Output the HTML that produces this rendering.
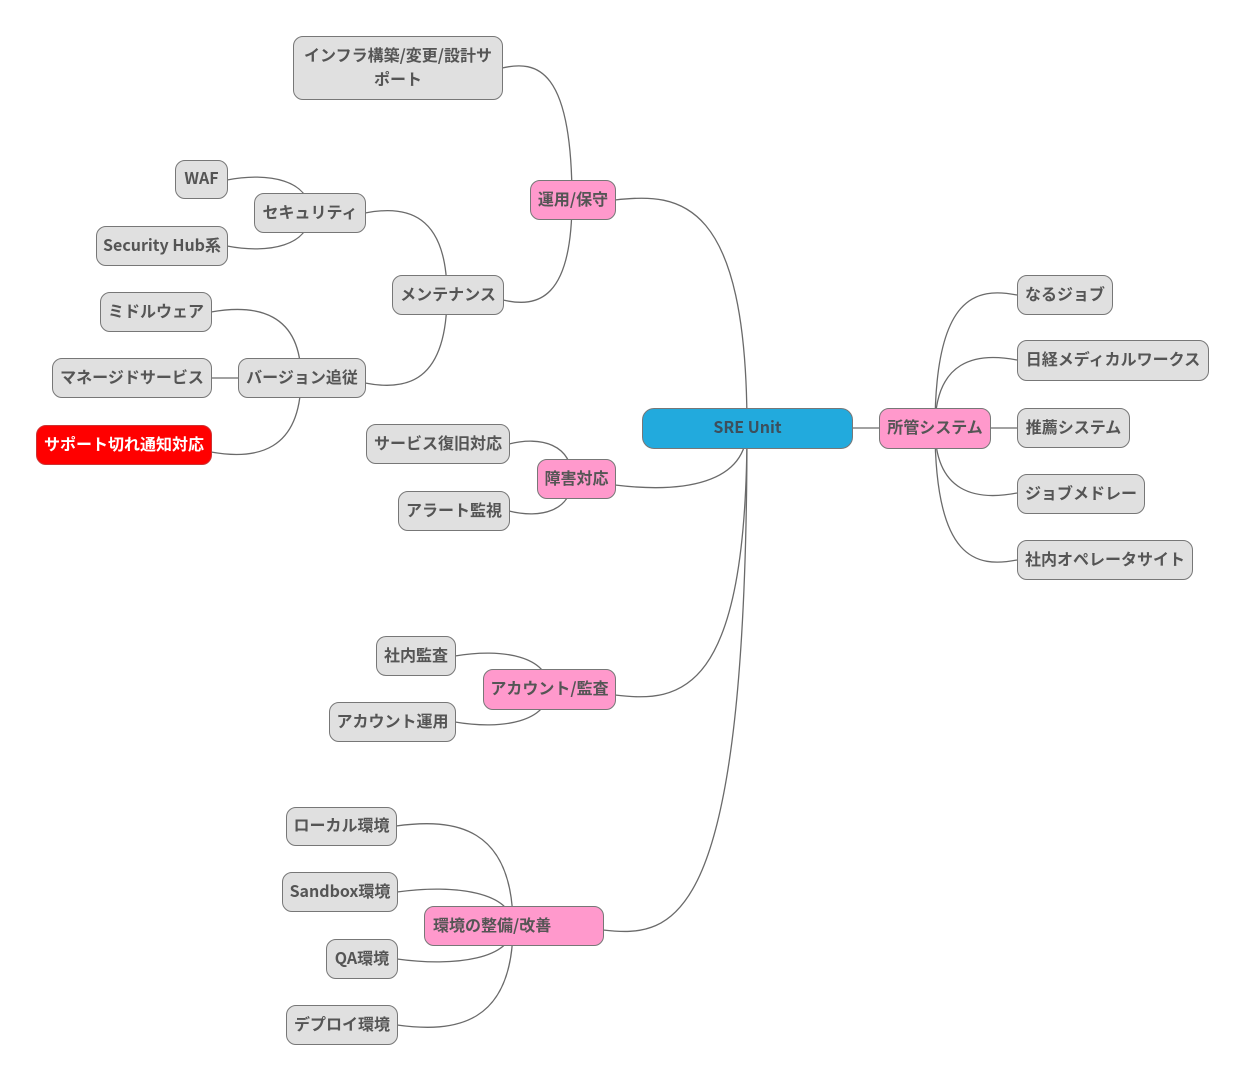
<!DOCTYPE html>
<html><head><meta charset="utf-8"><style>
body{margin:0;background:#fff;width:1246px;height:1084px;position:relative;overflow:hidden;font-family:"Noto Sans CJK JP","Liberation Sans",sans-serif}
svg{position:absolute;left:0;top:0}
.n{position:absolute;box-sizing:border-box;border:1.5px solid #777;border-radius:10px;background:#e0e0e0;color:#555;font-weight:bold;font-size:16px;display:flex;align-items:center;justify-content:center;text-align:center;line-height:24px;white-space:nowrap;padding-bottom:5px}
.p{background:#ff99cc}
.b{background:#22aadd;border-radius:12px;color:#3d4f5c}
.r{background:#ff0000;color:#fff;border-color:#c33}
</style></head><body>
<svg width="1246" height="1084"><g fill="none" stroke="#6a6a6a" stroke-width="1.3" id="g"></g></svg>
<div class="n b" style="left:642px;top:408px;width:211px;height:41px">SRE Unit</div>
<div class="n p" style="left:879px;top:408px;width:112px;height:41px">所管システム</div>
<div class="n" style="left:1017px;top:275px;width:96px;height:40px">なるジョブ</div>
<div class="n" style="left:1017px;top:340px;width:192px;height:41px">日経メディカルワークス</div>
<div class="n" style="left:1017px;top:408px;width:113px;height:40px">推薦システム</div>
<div class="n" style="left:1017px;top:474px;width:128px;height:40px">ジョブメドレー</div>
<div class="n" style="left:1017px;top:540px;width:176px;height:40px">社内オペレータサイト</div>
<div class="n p" style="left:530px;top:180px;width:86px;height:40px">運用/保守</div>
<div class="n" style="left:293px;top:36px;width:210px;height:64px;white-space:normal;padding:0 8px 5px">インフラ構築/変更/設計サポート</div>
<div class="n" style="left:392px;top:275px;width:112px;height:40px">メンテナンス</div>
<div class="n" style="left:254px;top:193px;width:112px;height:40px">セキュリティ</div>
<div class="n" style="left:175px;top:160px;width:53px;height:39px">WAF</div>
<div class="n" style="left:96px;top:226px;width:132px;height:40px">Security Hub系</div>
<div class="n" style="left:238px;top:358px;width:128px;height:40px">バージョン追従</div>
<div class="n" style="left:100px;top:292px;width:112px;height:40px">ミドルウェア</div>
<div class="n" style="left:52px;top:358px;width:160px;height:40px">マネージドサービス</div>
<div class="n r" style="left:36px;top:425px;width:176px;height:40px">サポート切れ通知対応</div>
<div class="n p" style="left:537px;top:459px;width:79px;height:40px">障害対応</div>
<div class="n" style="left:366px;top:424px;width:144px;height:40px">サービス復旧対応</div>
<div class="n" style="left:398px;top:491px;width:112px;height:40px">アラート監視</div>
<div class="n p" style="left:483px;top:669px;width:133px;height:41px">アカウント/監査</div>
<div class="n" style="left:376px;top:636px;width:80px;height:40px">社内監査</div>
<div class="n" style="left:329px;top:702px;width:127px;height:40px">アカウント運用</div>
<div class="n p" style="left:424px;top:906px;width:180px;height:40px;justify-content:flex-start;padding-left:8px">環境の整備/改善</div>
<div class="n" style="left:286px;top:807px;width:111px;height:39px">ローカル環境</div>
<div class="n" style="left:282px;top:872px;width:116px;height:40px">Sandbox環境</div>
<div class="n" style="left:326px;top:939px;width:72px;height:40px">QA環境</div>
<div class="n" style="left:286px;top:1005px;width:112px;height:40px">デプロイ環境</div>
<script>
var L=[[747,428,615,200],[747,428,615,485],[747,428,615,695],[747,428,603,930],
[572,200,502,68],[572,200,503,300],
[447,295,365,213],[447,295,365,383],
[310,213,227,180],[310,213,227,246],
[301,378,211,312],[301,378,211,452],
[572,479,509,444],[572,479,509,511],
[549,689,455,656],[549,689,455,722],
[513,926,396,826],[513,926,397,892],[513,926,397,959],[513,926,397,1025],
[935,428,1017,295],[935,428,1017,360],[935,428,1017,493],[935,428,1017,560]];
var s='';
L.forEach(function(a){var px=a[0],py=a[1],cx=a[2],cy=a[3];
s+='<path d="M'+px+' '+py+' C'+px+' '+cy+' '+((px+cx)/2)+' '+(cy-8*Math.sign(py-cy))+' '+cx+' '+cy+'"/>';});
s+='<path d="M852 428 L879 428"/><path d="M991 428 L1017 428"/><path d="M211 378 L238 378"/>';
document.getElementById('g').innerHTML=s;
</script>
</body></html>
